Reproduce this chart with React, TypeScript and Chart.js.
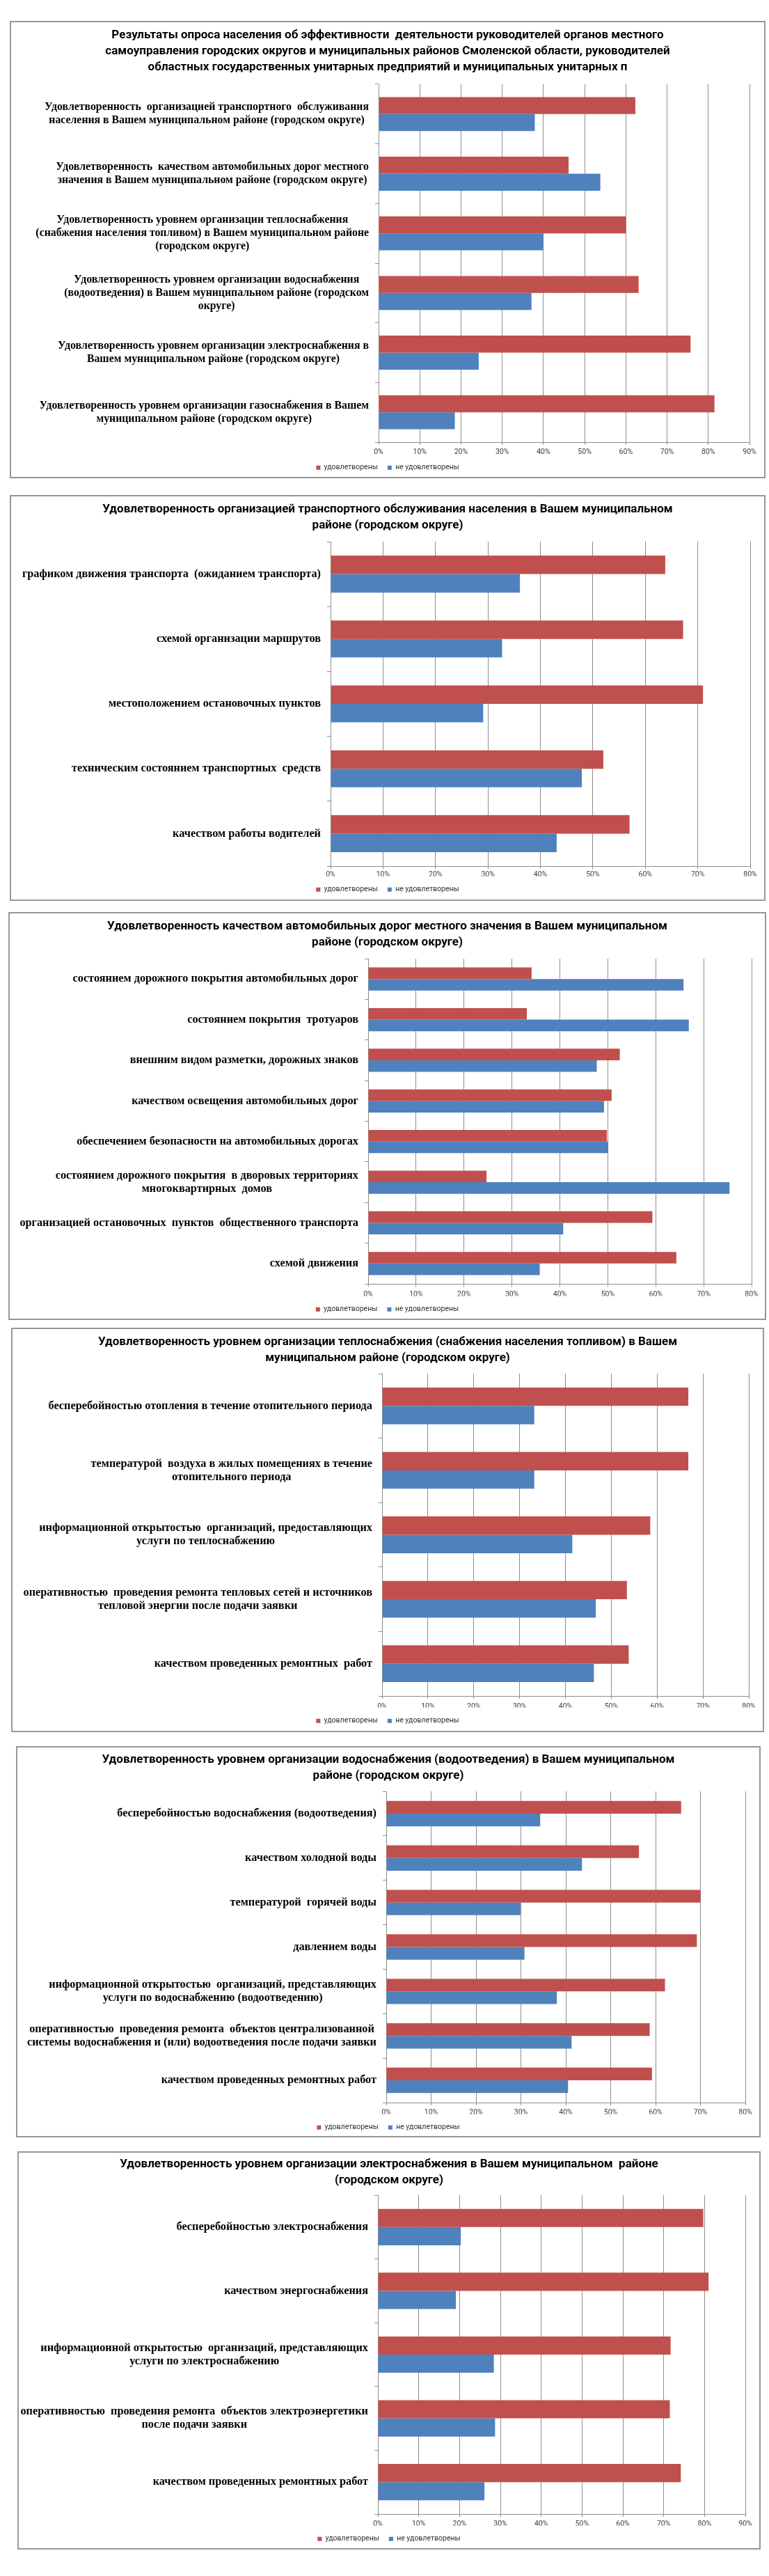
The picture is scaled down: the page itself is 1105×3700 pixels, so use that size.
import React, { useEffect, useRef } from 'react';
import { Chart, registerables } from 'chart.js';

Chart.register(...registerables);

// ---------- Series names ----------
const seriesSatisfied = 'удовлетворены';
const seriesUnsatisfied = 'не удовлетворены';

// ---------- Chart 1 ----------
const c1Title = [
  'Результаты опроса населения об эффективности  деятельности руководителей органов местного',
  'самоуправления городских округов и муниципальных районов Смоленской области, руководителей',
  'областных государственных унитарных предприятий и муниципальных унитарных п',
];
const c1Categories = [
  ['Удовлетворенность  организацией транспортного  обслуживания', 'населения в Вашем муниципальном районе (городском округе)'],
  ['Удовлетворенность  качеством автомобильных дорог местного', 'значения в Вашем муниципальном районе (городском округе)'],
  ['Удовлетворенность уровнем организации теплоснабжения', '(снабжения населения топливом) в Вашем муниципальном районе', '(городском округе)'],
  ['Удовлетворенность уровнем организации водоснабжения', '(водоотведения) в Вашем муниципальном районе (городском', 'округе)'],
  ['Удовлетворенность уровнем организации электроснабжения в', 'Вашем муниципальном районе (городском округе)'],
  ['Удовлетворенность уровнем организации газоснабжения в Вашем', 'муниципальном районе (городском округе)'],
];
const c1Satisfied = [62.3, 46.1, 60.0, 63.1, 75.7, 81.5];
const c1Unsatisfied = [37.9, 53.8, 40.0, 37.1, 24.3, 18.5];
const c1AxisMax = 90;

// ---------- Chart 2 ----------
const c2Title = [
  'Удовлетворенность организацией транспортного обслуживания населения в Вашем муниципальном',
  'районе (городском округе)',
];
const c2Categories = [
  'графиком движения транспорта  (ожиданием транспорта)',
  'схемой организации маршрутов',
  'местоположением остановочных пунктов',
  'техническим состоянием транспортных  средств',
  'качеством работы водителей',
];
const c2Satisfied = [63.8, 67.2, 71.0, 52.0, 57.0];
const c2Unsatisfied = [36.1, 32.7, 29.1, 47.9, 43.1];
const c2AxisMax = 80;

// ---------- Chart 3 ----------
const c3Title = [
  'Удовлетворенность качеством автомобильных дорог местного значения в Вашем муниципальном',
  'районе (городском округе)',
];
const c3Categories = [
  'состоянием дорожного покрытия автомобильных дорог',
  'состоянием покрытия  тротуаров',
  'внешним видом разметки, дорожных знаков',
  'качеством освещения автомобильных дорог',
  'обеспечением безопасности на автомобильных дорогах',
  ['состоянием дорожного покрытия  в дворовых территориях', 'многоквартирных  домов'],
  'организацией остановочных  пунктов  общественного транспорта',
  'схемой движения',
];
const c3Satisfied = [34.1, 33.1, 52.5, 50.8, 49.8, 24.7, 59.3, 64.3];
const c3Unsatisfied = [65.8, 66.9, 47.7, 49.2, 50.1, 75.4, 40.7, 35.8];
const c3AxisMax = 80;

// ---------- Chart 4 ----------
const c4Title = [
  'Удовлетворенность уровнем организации теплоснабжения (снабжения населения топливом) в Вашем',
  'муниципальном районе (городском округе)',
];
const c4Categories = [
  'бесперебойностью отопления в течение отопительного периода',
  ['температурой  воздуха в жилых помещениях в течение', 'отопительного периода'],
  ['информационной открытостью  организаций, предоставляющих', 'услуги по теплоснабжению'],
  ['оперативностью  проведения ремонта тепловых сетей и источников', 'тепловой энергии после подачи заявки'],
  'качеством проведенных ремонтных  работ',
];
const c4Satisfied = [66.8, 66.8, 58.5, 53.4, 53.8];
const c4Unsatisfied = [33.2, 33.2, 41.5, 46.6, 46.2];
const c4AxisMax = 80;

// ---------- Chart 5 ----------
const c5Title = [
  'Удовлетворенность уровнем организации водоснабжения (водоотведения) в Вашем муниципальном',
  'районе (городском округе)',
];
const c5Categories = [
  'бесперебойностью водоснабжения (водоотведения)',
  'качеством холодной воды',
  'температурой  горячей воды',
  'давлением воды',
  ['информационной открытостью  организаций, представляющих', 'услуги по водоснабжению (водоотведению)'],
  ['оперативностью  проведения ремонта  объектов централизованной', 'системы водоснабжения и (или) водоотведения после подачи заявки'],
  'качеством проведенных ремонтных работ',
];
const c5Satisfied = [65.7, 56.3, 70.0, 69.2, 62.1, 58.7, 59.2];
const c5Unsatisfied = [34.3, 43.6, 29.9, 30.8, 38.0, 41.3, 40.5];
const c5AxisMax = 80;

// ---------- Chart 6 ----------
const c6Title = [
  'Удовлетворенность уровнем организации электроснабжения в Вашем муниципальном  районе',
  '(городском округе)',
];
const c6Categories = [
  'бесперебойностью электроснабжения',
  'качеством энергоснабжения',
  ['информационной открытостью  организаций, представляющих', 'услуги по электроснабжению'],
  ['оперативностью  проведения ремонта  объектов электроэнергетики', 'после подачи заявки'],
  'качеством проведенных ремонтных работ',
];
const c6Satisfied = [79.7, 81.0, 71.7, 71.5, 74.2];
const c6Unsatisfied = [20.3, 19.1, 28.4, 28.7, 26.1];
const c6AxisMax = 90;

// ---------- Layout (page coordinates) ----------
type Geo = {
  box: [number, number, number, number];
  plot: [number, number, number, number];
  title1: number;
  tickY: number;
  legendY: number;
  labelSize: number;
};

const geos: Geo[] = [
  { box: [14, 30, 1100, 687], plot: [544, 121, 1077, 635], title1: 51, tickY: 649.5, legendY: 671.5, labelSize: 15.8 },
  { box: [14, 711, 1100, 1294], plot: [475, 778, 1078, 1244], title1: 732, tickY: 1256.5, legendY: 1278, labelSize: 16.3 },
  { box: [12, 1310, 1101, 1896], plot: [529, 1377, 1080, 1844], title1: 1331, tickY: 1859.5, legendY: 1881, labelSize: 16.3 },
  { box: [16, 1907, 1098, 2488], plot: [549, 1973, 1076, 2436], title1: 1928, tickY: 2451, legendY: 2472, labelSize: 16.3 },
  { box: [23, 2508, 1093, 3070], plot: [555, 2573, 1071, 3020], title1: 2528, tickY: 3034.5, legendY: 3055.5, labelSize: 16.3 },
  { box: [25, 3090, 1093, 3662], plot: [543, 3153, 1071, 3611], title1: 3109, tickY: 3625.5, legendY: 3647, labelSize: 16.3 },
];

const RED = '#C0504D';
const BLUE = '#4F81BD';
const GRID = '#8e8e8e';
const TITLE_FONT = 'Roboto';
const TITLE_SIZE = 17;
const TITLE_LH = 23;
const LABEL_FONT = '"Liberation Serif"';
const LABEL_LH = 19;
const LABEL_GAP = 14;
const SMALL_FONT = 'Roboto';
const SMALL_SIZE = 10.5;
const LEGEND_PAD = 14;

const categoryLabelPlugin = {
  id: 'catLabels',
  afterDraw(chart: any, _args: any, opts: any) {
    const { ctx, chartArea } = chart;
    const yScale = chart.scales.y;
    const size = (opts && opts.size) || 16;
    ctx.save();
    ctx.font = `bold ${size}px ${LABEL_FONT}`;
    ctx.fillStyle = '#000';
    ctx.textBaseline = 'middle';
    ctx.textAlign = 'center';
    (chart.data.labels as any[]).forEach((lab, i) => {
      const lines: string[] = Array.isArray(lab) ? lab : [lab];
      const cy = yScale.getPixelForTick(i);
      const maxW = Math.max(...lines.map((l) => ctx.measureText(l).width));
      const cx = chartArea.left - LABEL_GAP - maxW / 2;
      const top = cy - (lines.length * LABEL_LH) / 2;
      lines.forEach((l, k) => ctx.fillText(l, cx, top + LABEL_LH * (k + 0.5)));
    });
    ctx.restore();
  },
};

type Props = {
  title: string[];
  categories: (string | string[])[];
  satisfied: number[];
  unsatisfied: number[];
  max: number;
  geo: Geo;
};

function SurveyChart({ title, categories, satisfied, unsatisfied, max, geo }: Props) {
  const ref = useRef<HTMLCanvasElement>(null);
  const [L, T, R, B] = geo.box;
  const [pL, pT, pR, pB] = geo.plot;
  const W = R - L;
  const itemH = SMALL_SIZE;
  const canvasH = Math.round(geo.legendY + itemH / 2 + 10 - T);

  useEffect(() => {
    const canvas = ref.current;
    if (!canvas) return;
    const side = R - pR;
    const yW = pL - L - side;
    const legendTop = T + canvasH - (itemH + LEGEND_PAD + 10);
    const xH = legendTop - pB;
    const tickPad = geo.tickY - pB - 4 - (SMALL_SIZE * 1.2) / 2;
    const titlePadTop = geo.title1 - T - TITLE_LH / 2;
    const titlePadBottom = pT - (T + titlePadTop + title.length * TITLE_LH);

    const chart = new Chart(canvas, {
      type: 'bar',
      data: {
        labels: categories as any,
        datasets: [
          { label: seriesSatisfied, data: satisfied, backgroundColor: RED, borderWidth: 0, categoryPercentage: 0.57, barPercentage: 1 },
          { label: seriesUnsatisfied, data: unsatisfied, backgroundColor: BLUE, borderWidth: 0, categoryPercentage: 0.57, barPercentage: 1 },
        ],
      },
      options: {
        indexAxis: 'y',
        responsive: false,
        maintainAspectRatio: false,
        animation: false,
        devicePixelRatio: 1,
        events: [],
        layout: { padding: { left: side, right: side, top: 0, bottom: 0 } },
        scales: {
          x: {
            type: 'linear',
            min: 0,
            max,
            ticks: {
              stepSize: 10,
              callback: (v: any) => `${v}%`,
              font: { family: SMALL_FONT, size: SMALL_SIZE },
              color: '#404040',
              padding: tickPad,
              maxRotation: 0,
              autoSkip: false,
            },
            grid: { color: GRID, tickLength: 4, lineWidth: 1 },
            border: { color: GRID, width: 1 },
            afterFit: (s: any) => {
              s.height = xH;
            },
          },
          y: {
            type: 'category',
            ticks: { display: false },
            grid: { drawOnChartArea: false, drawTicks: true, tickLength: 5, color: GRID, offset: true },
            border: { color: GRID, width: 1 },
            afterFit: (s: any) => {
              s.width = yW;
            },
          },
        },
        plugins: {
          catLabels: { size: geo.labelSize },
          title: {
            display: true,
            text: title,
            color: '#000',
            font: { family: TITLE_FONT, size: TITLE_SIZE, weight: 'bold', lineHeight: TITLE_LH / TITLE_SIZE },
            padding: { top: titlePadTop, bottom: titlePadBottom },
          },
          legend: {
            display: true,
            position: 'bottom',
            labels: {
              boxWidth: 6,
              boxHeight: 6,
              padding: LEGEND_PAD,
              color: '#333',
              font: { family: SMALL_FONT, size: SMALL_SIZE },
            },
          },
          tooltip: { enabled: false },
        },
      } as any,
      plugins: [categoryLabelPlugin],
    });
    return () => chart.destroy();
  }, []);

  return (
    <>
      <canvas
        ref={ref}
        width={W}
        height={canvasH}
        style={{ position: 'absolute', left: L, top: T, width: W, height: canvasH }}
      />
      <div
        style={{
          position: 'absolute',
          left: L,
          top: T,
          width: W,
          height: B - T,
          border: '2px solid #979797',
          boxSizing: 'border-box',
          pointerEvents: 'none',
        }}
      />
    </>
  );
}

export default function App() {
  return (
    <div>
      <SurveyChart title={c1Title} categories={c1Categories} satisfied={c1Satisfied} unsatisfied={c1Unsatisfied} max={c1AxisMax} geo={geos[0]} />
      <SurveyChart title={c2Title} categories={c2Categories} satisfied={c2Satisfied} unsatisfied={c2Unsatisfied} max={c2AxisMax} geo={geos[1]} />
      <SurveyChart title={c3Title} categories={c3Categories} satisfied={c3Satisfied} unsatisfied={c3Unsatisfied} max={c3AxisMax} geo={geos[2]} />
      <SurveyChart title={c4Title} categories={c4Categories} satisfied={c4Satisfied} unsatisfied={c4Unsatisfied} max={c4AxisMax} geo={geos[3]} />
      <SurveyChart title={c5Title} categories={c5Categories} satisfied={c5Satisfied} unsatisfied={c5Unsatisfied} max={c5AxisMax} geo={geos[4]} />
      <SurveyChart title={c6Title} categories={c6Categories} satisfied={c6Satisfied} unsatisfied={c6Unsatisfied} max={c6AxisMax} geo={geos[5]} />
    </div>
  );
}
